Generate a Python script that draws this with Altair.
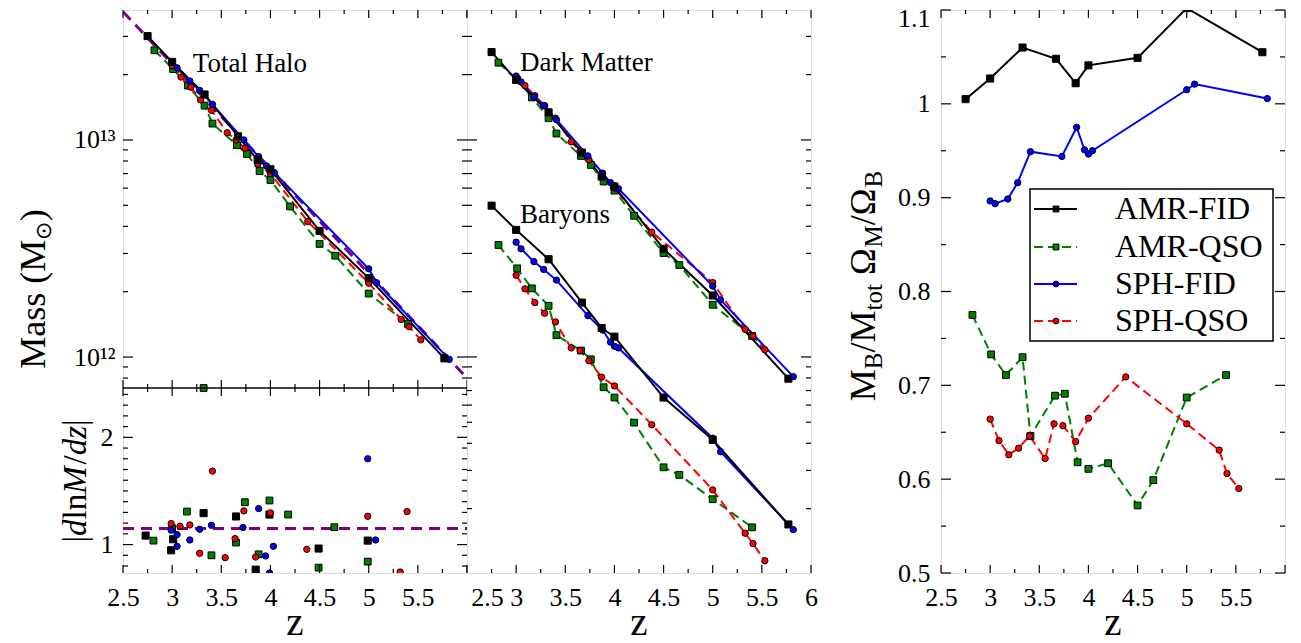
import altair as alt
import pandas as pd

FONT = "Liberation Serif"

# ---------------- data ----------------
# AMR-FID (black squares, solid)
z_af = [2.75, 3.0, 3.33, 3.67, 3.87, 4.0, 4.5, 5.0, 5.77]
tot_af = [3.01e13, 2.29e13, 1.62e13, 1.04e13, 8.09e12, 7.33e12, 3.81e12, 2.31e12, 9.86e11]
dm_af = [2.54e13, 1.89e13, 1.34e13, 8.74e12, 6.78e12, 6.1e12, 3.15e12, 1.92e12, 7.94e11]
bar_af = [4.98e12, 3.85e12, 2.82e12, 1.78e12, 1.36e12, 1.24e12, 6.5e11, 4.15e11, 1.69e11]
rat_af = [1.005, 1.027, 1.060, 1.048, 1.022, 1.041, 1.049, 1.102, 1.055]
dz_af = [2.73, 2.99, 3.01, 3.32, 3.65, 3.85, 3.99, 4.49, 4.99]
dv_af = [1.084, 0.947, 1.05, 1.293, 1.262, 0.766, 1.28, 0.963, 1.037]

# AMR-QSO (green squares, dashed)
z_aq = [2.82, 3.01, 3.16, 3.33, 3.41, 3.66, 3.76, 3.89, 4.0, 4.2, 4.5, 4.66, 5.0, 5.4]
tot_aq = [2.59e13, 2.12e13, 1.78e13, 1.44e13, 1.19e13, 9.46e12, 8.62e12, 7.19e12, 6.54e12,
          4.94e12, 3.32e12, 2.93e12, 1.96e12, 1.42e12]
dm_aq = [2.27e13, 1.89e13, 1.57e13, 1.26e13, 1.07e13, 8.44e12, 7.67e12, 6.43e12, 5.84e12,
         4.47e12, 3.01e12, 2.65e12, 1.74e12, 1.25e12]
bar_aq = [3.28e12, 2.56e12, 2.07e12, 1.72e12, 1.26e12, 1.07e12, 9.75e11, 7.25e11, 6.5e11,
          4.98e11, 3.1e11, 2.86e11, 2.21e11, 1.64e11]
rat_aq = [0.775, 0.733, 0.711, 0.730, 0.646, 0.689, 0.691, 0.618, 0.611, 0.617, 0.572, 0.599, 0.687, 0.711]
dz_aq = [2.81, 3.0, 3.15, 3.32, 3.40, 3.65, 3.74, 3.88, 3.99, 4.18, 4.49, 4.65, 4.99]
dv_aq = [1.037, 1.152, 1.308, 2.46, 0.90, 1.019, 1.395, 0.909, 1.411, 1.28, 0.785, 1.162, 0.841]

# SPH-FID (blue circles, solid)
z_sf = [3.0, 3.05, 3.18, 3.28, 3.41, 3.73, 3.88, 3.96, 4.0, 4.04, 5.0, 5.08, 5.82]
tot_sf = [2.28e13, 2.15e13, 1.87e13, 1.69e13, 1.46e13, 1.0e13, 8.38e12, 7.59e12, 7.3e12, 7.07e12,
          2.55e12, 2.2e12, 9.75e11]
dm_sf = [1.97e13, 1.85e13, 1.58e13, 1.44e13, 1.24e13, 8.44e12, 7.03e12, 6.36e12, 6.15e12, 5.97e12,
         2.12e12, 1.83e12, 8.11e11]
bar_sf = [3.38e12, 3.15e12, 2.75e12, 2.53e12, 2.26e12, 1.55e12, 1.33e12, 1.17e12, 1.12e12, 1.1e12,
          4.22e11, 3.66e11, 1.6e11]
rat_sf = [0.8965, 0.8936, 0.8986, 0.916, 0.949, 0.944, 0.975, 0.951, 0.9465, 0.950, 1.015, 1.021, 1.0056]
dz_sf = [2.99, 3.05, 3.05, 3.18, 3.28, 3.40, 3.72, 3.88, 3.95, 3.99, 4.03, 4.99, 5.07]
dv_sf = [1.134, 1.093, 0.984, 1.043, 1.143, 1.18, 1.159, 1.336, 0.894, 0.735, 0.984, 1.8, 1.043]

# SPH-QSO (red circles, dashed)
z_sq = [3.0, 3.09, 3.19, 3.29, 3.40, 3.56, 3.65, 3.74, 3.87, 4.0, 4.38, 5.0, 5.33, 5.41, 5.53]
tot_sq = [2.2e13, 1.95e13, 1.75e13, 1.53e13, 1.37e13, 1.08e13, 1.0e13, 9.16e12, 7.74e12, 7.0e12,
          4.21e12, 2.19e12, 1.49e12, 1.38e12, 1.2e12]
dm_sq = [1.95e13, 1.78e13, 1.6e13, 1.44e13, 1.26e13, 9.8e12, 8.9e12, 8.1e12, 7.0e12, 6.0e12,
         3.76e12, 2.2e12, 1.34e12, 1.25e12, 1.08e12]
bar_sq = [2.38e12, 2.06e12, 1.78e12, 1.59e12, 1.45e12, 1.1e12, 1.07e12, 9.6e11, 8.07e11, 7.35e11,
          4.87e11, 2.44e11, 1.54e11, 1.38e11, 1.15e11]
rat_sq = [0.664, 0.641, 0.626, 0.633, 0.646, 0.622, 0.659, 0.657, 0.640, 0.665, 0.709, 0.659, 0.631, 0.606, 0.590]
dz_sq = [2.99, 3.08, 3.18, 3.28, 3.41, 3.54, 3.64, 3.73, 3.85, 4.0, 4.37, 4.99, 5.32, 5.39]
dv_sq = [1.196, 1.171, 1.183, 0.919, 1.685, 0.878, 1.056, 1.314, 0.884, 1.295, 0.956, 1.264, 0.744, 1.308]

# reference power-law (purple dashed)
z_ref = [2.5, 6.0]
m_ref = [3.9e13, 8.0e11]
d_ref = [1.15, 1.15]

series_names = ["AMR-FID", "AMR-QSO", "SPH-FID", "SPH-QSO"]

# tick values / labels
x_major = [2.5, 3.0, 3.5, 4.0, 4.5, 5.0, 5.5, 6.0]
x_minor = [2.75, 3.25, 3.75, 4.25, 4.75, 5.25, 5.75]
x_labels_lr = [2.5, 3.0, 3.5, 4.0, 4.5, 5.0, 5.5]
log_major = [1e12, 1e13]
log_minor_left = [8e11, 9e11, 2e12, 3e12, 4e12, 5e12, 6e12, 7e12, 8e12, 9e12, 2e13, 3e13]
log_minor_mid = [2e11, 3e11, 4e11, 5e11, 6e11, 7e11, 8e11, 9e11, 2e12, 3e12, 4e12, 5e12,
                 6e12, 7e12, 8e12, 9e12, 2e13, 3e13]
der_major = [1.0, 2.0]
der_minor = [0.8, 0.9, 1.1, 1.2, 1.3, 1.4, 1.5, 1.6, 1.7, 1.8, 1.9, 2.1, 2.2, 2.3, 2.4]
rat_major = [0.5, 0.6, 0.7, 0.8, 0.9, 1.0, 1.1]
rat_minor = [0.55, 0.65, 0.75, 0.85, 0.95, 1.05]

# ---------------- styling ----------------
STY = {
    "AMR-FID": dict(color="black", shape="square", dash=None, size=50),
    "AMR-QSO": dict(color="#008000", shape="square", dash=[9, 5], size=46),
    "SPH-FID": dict(color="#0000ff", shape="circle", dash=None, size=40),
    "SPH-QSO": dict(color="#ff0000", shape="circle", dash=[9, 5], size=40),
}
PURPLE = "#800080"

W = 344
H_TOP = 378
H = 563
MAJ, MIN = 8, 4

xs = alt.Scale(domain=[2.5, 6.0], nice=False, zero=False)
ys_left = alt.Scale(type="log", domain=[7.2e11, 3.97e13], range=[H_TOP, 0], nice=False)
ys_der = alt.Scale(domain=[0.735, 2.46], range=[H, H_TOP], nice=False, zero=False)
ys_mid = alt.Scale(type="log", domain=[1.01e11, 3.97e13], nice=False)
ys_rat = alt.Scale(domain=[0.5, 1.1], nice=False, zero=False)

ONE = pd.DataFrame({"k": [0]})

LABEL = dict(ticks=False, tickSize=0, domain=False, grid=False, labelFont=FONT,
             labelFontSize=26, labelColor="black", title=None, labelOverlap=False)


def xaxis(values, offset=None):
    kw = dict(LABEL)
    if offset is not None:
        kw["labelOffset"] = offset
    return alt.Axis(values=values, format="~g", labelPadding=11, labelFlush=False,
                    orient="bottom", **kw)


def yaxis(values, expr=None, pad=10, offset=None):
    kw = dict(LABEL)
    if expr is not None:
        kw["labelExpr"] = expr
    if offset is not None:
        kw["labelOffset"] = offset
    return alt.Axis(values=values, format="~g", labelPadding=pad, orient="left", **kw)


# one axis object per panel, shared by every layer of that panel
XA_LEFT = xaxis(x_labels_lr)
XA_MID = xaxis(x_major, {"condition": {"test": "datum.value == 2.5", "value": 20}, "value": 0})
XA_RIGHT = xaxis(x_labels_lr)
YA_TOP = yaxis(log_major, "datum.value > 5e12 ? '10¹³' : '10¹²'", pad=8)
YA_DER = yaxis(der_major, pad=10)
YA_RAT = yaxis(rat_major, pad=11,
               offset={"condition": {"test": "datum.value > 1.05", "value": 8}, "value": 0})


def df(z, v):
    return pd.DataFrame({"z": z, "v": v})


def line(z, v, name, ys, xax, yax):
    st = STY[name]
    kw = dict(color=st["color"], strokeWidth=2, clip=True)
    if st["dash"]:
        kw["strokeDash"] = st["dash"]
    return alt.Chart(df(z, v)).mark_line(**kw).encode(
        x=alt.X("z:Q", scale=xs, axis=xax), y=alt.Y("v:Q", scale=ys, axis=yax))


def pts(z, v, name, ys, xax, yax):
    st = STY[name]
    return alt.Chart(df(z, v)).mark_point(
        shape=st["shape"], filled=True, fill=st["color"], stroke="black", strokeWidth=1,
        size=st["size"], opacity=1, clip=True).encode(
        x=alt.X("z:Q", scale=xs, axis=xax), y=alt.Y("v:Q", scale=ys, axis=yax))


def ref_line(z, v, ys, xax, yax):
    return alt.Chart(df(z, v)).mark_line(color=PURPLE, strokeWidth=3, strokeDash=[11, 7], clip=True).encode(
        x=alt.X("z:Q", scale=xs, axis=xax), y=alt.Y("v:Q", scale=ys, axis=yax))


def xrules(values, y0, length, xax):
    return alt.Chart(pd.DataFrame({"t": values})).mark_rule(color="black", strokeWidth=1.2).encode(
        x=alt.X("t:Q", scale=xs, axis=xax), y=alt.value(y0), y2=alt.value(y0 + length))


def yrules(values, scale, x0, length, yax):
    return alt.Chart(pd.DataFrame({"t": values})).mark_rule(color="black", strokeWidth=1.2).encode(
        y=alt.Y("t:Q", scale=scale, axis=yax), x=alt.value(x0), x2=alt.value(x0 + length))


def xticks(y0, direction, xax):
    return [xrules(x_major, y0, direction * MAJ, xax), xrules(x_minor, y0, direction * MIN, xax)]


def yticks(scale, ymaj, ymin, yax):
    return [yrules(ymaj, scale, 0, MAJ + 2, yax), yrules(ymin, scale, 0, MIN + 1, yax),
            yrules(ymaj, scale, W, -(MAJ + 2), yax), yrules(ymin, scale, W, -(MIN + 1), yax)]


# character advance widths (em) for Times-like serif
WID = {"M": .889, "B": .667, "/": .278, "t": .278, "o": .5, " ": .25, "Ω": .768, "a": .444,
       "s": .389, "(": .333, ")": .333, "⊙": .838, "d": .5, "l": .278, "n": .5, "z": .389,
       "|": .2}


def rich_vertical(pieces, x, yc):
    """pieces: (text, size, dy, style); rotated 270, reading upward, centred at yc."""
    widths = [sum(WID.get(c, .5) for c in t) * s for t, s, _, _ in pieces]
    total = sum(widths)
    y0 = yc + total / 2
    out = []
    cum = 0
    for (t, s, dy, style), wdt in zip(pieces, widths):
        lead = (len(t) - len(t.lstrip(" "))) * WID[" "] * s
        out.append(alt.Chart(ONE).mark_text(
            angle=270, align="left", baseline="alphabetic", dx=cum + lead, dy=dy, font=FONT,
            fontSize=s, fontStyle=style, color="black").encode(
            x=alt.value(x), y=alt.value(y0), text=alt.value(t.strip(" "))))
        cum += wdt
    return out


def ztitle():
    return alt.Chart(ONE).mark_text(align="center", baseline="alphabetic", font=FONT,
                                    fontSize=39, color="black").encode(
        x=alt.value(W / 2), y=alt.value(H + 62), text=alt.value("z"))


def annot(text, z, v, ys, xax, yax):
    return alt.Chart(pd.DataFrame({"z": [z], "v": [v], "t": [text]})).mark_text(
        align="left", baseline="alphabetic", font=FONT, fontSize=27, color="black").encode(
        x=alt.X("z:Q", scale=xs, axis=xax), y=alt.Y("v:Q", scale=ys, axis=yax), text="t:N")


ORDER = [("AMR-QSO", z_aq), ("SPH-QSO", z_sq), ("SPH-FID", z_sf), ("AMR-FID", z_af)]

# ---------------- left column: total halo (top) + |dlnM/dz| (bottom) ----------------
# y scales are independent here (top: log mass, bottom: derivative), x is shared
tot = {"AMR-FID": tot_af, "AMR-QSO": tot_aq, "SPH-FID": tot_sf, "SPH-QSO": tot_sq}
der = {"AMR-FID": (dz_af, dv_af), "AMR-QSO": (dz_aq, dv_aq), "SPH-FID": (dz_sf, dv_sf),
       "SPH-QSO": (dz_sq, dv_sq)}
XL = XA_LEFT
L = [ref_line(z_ref, m_ref, ys_left, XL, None), ref_line(z_ref, d_ref, ys_der, XL, None)]
first = True
for name, zz in ORDER:
    L.append(line(zz, tot[name], name, ys_left, XL, YA_TOP if first else None))
    first = False
for name, zz in ORDER:
    L.append(pts(zz, tot[name], name, ys_left, XL, None))
first = True
for name in series_names:
    zz, vv = der[name]
    L.append(pts(zz, vv, name, ys_der, XL, YA_DER if first else None))
    first = False
L.append(annot("Total Halo", 3.21, 2.06e13, ys_left, XL, None))
L.append(alt.Chart(ONE).mark_rule(color="black", strokeWidth=1.5).encode(
    x=alt.value(0), x2=alt.value(W), y=alt.value(H_TOP)))
L += xticks(H, -1, XL) + xticks(0, 1, XL) + xticks(H_TOP, -1, XL) + xticks(H_TOP, 1, XL)
L += yticks(ys_left, log_major, log_minor_left, None)
L += yticks(ys_der, der_major, der_minor, None)
L += rich_vertical([("Mass (M", 36, 0, "normal"), ("⊙", 22, 6, "normal"), (")", 36, 0, "normal")],
                   -78, 279)
L += rich_vertical([("|", 33, 0, "normal"), ("d", 33, 0, "italic"), ("ln", 33, 0, "normal"),
                    ("M", 33, 0, "italic"), ("/", 33, 0, "normal"), ("dz", 33, 0, "italic"),
                    ("|", 33, 0, "normal")], -37, H_TOP + 93)
L.append(ztitle())
# invisible anchor fixing the top-left corner of the page layout
L.append(alt.Chart(ONE).mark_rule(opacity=0).encode(
    x=alt.value(-122.5), x2=alt.value(-122.5), y=alt.value(-19.5), y2=alt.value(-19.5)))
left = alt.layer(*L).resolve_scale(y="independent").properties(width=W, height=H)

# ---------------- middle: dark matter & baryons ----------------
dm = {"AMR-FID": dm_af, "AMR-QSO": dm_aq, "SPH-FID": dm_sf, "SPH-QSO": dm_sq}
bar = {"AMR-FID": bar_af, "AMR-QSO": bar_aq, "SPH-FID": bar_sf, "SPH-QSO": bar_sq}
XM = XA_MID
Mi = []
for name, zz in ORDER:
    Mi.append(line(zz, dm[name], name, ys_mid, XM, None))
    Mi.append(line(zz, bar[name], name, ys_mid, XM, None))
for name, zz in ORDER:
    Mi.append(pts(zz, dm[name], name, ys_mid, XM, None))
    Mi.append(pts(zz, bar[name], name, ys_mid, XM, None))
Mi.append(annot("Dark Matter", 3.04, 2.07e13, ys_mid, XM, None))
Mi.append(annot("Baryons", 3.04, 4.16e12, ys_mid, XM, None))
Mi += xticks(H, -1, XM) + xticks(0, 1, XM)
Mi += yticks(ys_mid, log_major, log_minor_mid, None)
Mi.append(ztitle())
middle = alt.layer(*Mi).properties(width=W, height=H)

# ---------------- spacer ----------------
spacer = alt.Chart(ONE).mark_point(opacity=0).encode(
    x=alt.value(0), y=alt.value(0)).properties(width=130, height=H,
                                               view=alt.ViewBackground(stroke=None))

# ---------------- right: baryon fraction ----------------
rat = {"AMR-FID": rat_af, "AMR-QSO": rat_aq, "SPH-FID": rat_sf, "SPH-QSO": rat_sq}
XR, YR = XA_RIGHT, YA_RAT
R = []
for name, zz in ORDER:
    R.append(line(zz, rat[name], name, ys_rat, XR, YR))
for name, zz in ORDER:
    R.append(pts(zz, rat[name], name, ys_rat, XR, YR))
R += xticks(H, -1, XR) + xticks(0, 1, XR)
R += yticks(ys_rat, rat_major, rat_minor, YR)
R += rich_vertical([("M", 36, 0, "normal"), ("B", 25, 7, "normal"), ("/M", 36, 0, "normal"),
                    ("tot", 25, 7, "normal"), (" Ω", 36, 0, "normal"), ("M", 25, 7, "normal"),
                    ("/Ω", 36, 0, "normal"), ("B", 25, 7, "normal")], -66, 276)
R.append(ztitle())
# legend
R.append(alt.Chart(ONE).mark_rect(fill="white", stroke="black", strokeWidth=1.5).encode(
    x=alt.value(89), x2=alt.value(332), y=alt.value(179), y2=alt.value(331)))
row_y = [199, 237, 274, 311]
for name, ry in zip(series_names, row_y):
    st = STY[name]
    kw = dict(color=st["color"], strokeWidth=2)
    if st["dash"]:
        kw["strokeDash"] = st["dash"]
    R.append(alt.Chart(ONE).mark_rule(**kw).encode(
        x=alt.value(93), x2=alt.value(136), y=alt.value(ry)))
    R.append(alt.Chart(ONE).mark_point(shape=st["shape"], filled=True, fill=st["color"],
                                       stroke="black", strokeWidth=1, size=34, opacity=1).encode(
        x=alt.value(115), y=alt.value(ry)))
    R.append(alt.Chart(ONE).mark_text(align="left", baseline="middle", font=FONT, fontSize=32,
                                      color="black").encode(
        x=alt.value(174), y=alt.value(ry), text=alt.value(name)))
right = alt.layer(*R).properties(width=W, height=H)

chart = alt.hconcat(left, middle, spacer, right, spacing=0, bounds="flush").properties(
    padding={"left": 0, "top": -10, "right": 0, "bottom": 0},
    background="white").configure_view(stroke="black", strokeWidth=1.5).configure(font=FONT)

chart.save("out.html", embed_options={"renderer": "svg", "actions": False})
